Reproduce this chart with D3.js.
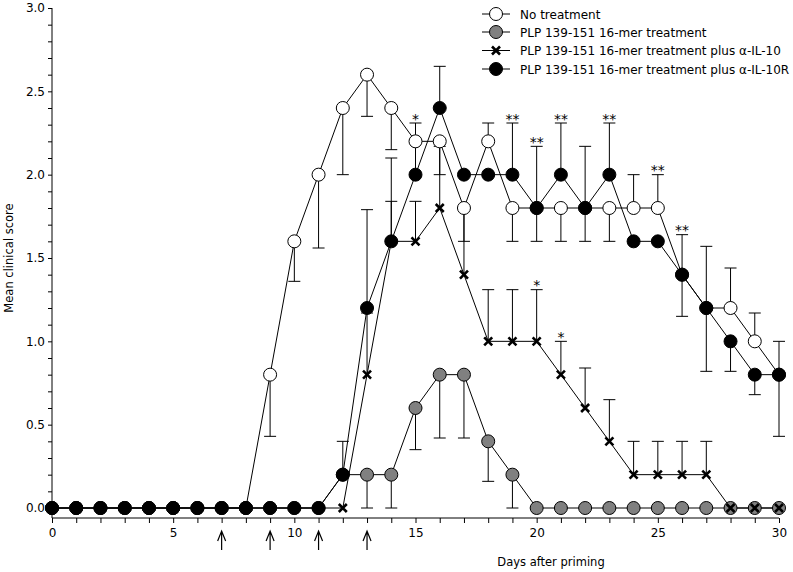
<!DOCTYPE html>
<html>
<head>
<meta charset="utf-8">
<script src="https://cdn.jsdelivr.net/npm/d3@7"></script>
<style>
  body { margin: 0; background: #fff; }
  text { font-family: "DejaVu Sans", Verdana, sans-serif; }
</style>
</head>
<body>
<svg id="chart" width="793" height="572"></svg>
<script>
// days after priming
const days = [0,1,2,3,4,5,6,7,8,9,10,11,12,13,14,15,16,17,18,19,20,21,22,23,24,25,26,27,28,29,30]

// mean clinical score per group
const noTreat   = [0,0,0,0,0,0,0,0,0,0.8,1.6,2.0,2.4,2.6,2.4,2.2,2.2,1.8,2.2,1.8,1.8,1.8,1.8,1.8,1.8,1.8,1.4,1.2,1.2,1.0,0.8]
const peptide   = [0,0,0,0,0,0,0,0,0,0,0,0,0.2,0.2,0.2,0.6,0.8,0.8,0.4,0.2,0,0,0,0,0,0,0,0,0,0,0]
const antiIL10  = [0,0,0,0,0,0,0,0,0,0,0,0,0,0.8,1.6,1.6,1.8,1.4,1.0,1.0,1.0,0.8,0.6,0.4,0.2,0.2,0.2,0.2,0,0,0]
const antiIL10R = [0,0,0,0,0,0,0,0,0,0,0,0,0.2,1.2,1.6,2.0,2.4,2.0,2.0,2.0,1.8,2.0,1.8,2.0,1.6,1.6,1.4,1.2,1.0,0.8,0.8]

// error bar ends (value where bar stops) keyed by day
const noTreatErr = {9:0.43,10:1.36,11:1.56,12:2.0,13:2.35,14:2.15,16:2.0,17:1.6,18:2.31,19:1.6,20:1.6,21:1.6,22:1.6,23:1.6,24:2.0,25:2.0,28:1.44,29:1.17}
const peptideErr = {12:0.4,13:0,14:0,15:0.35,16:0.42,17:0.42,18:0.16,19:0}
const antiIL10Err = {13:1.17,14:1.84,15:1.84,16:2.17,17:1.8,18:1.31,19:1.31,20:1.31,21:1.0,22:0.84,23:0.65,24:0.4,25:0.4,26:0.4,27:0.4}
const antiIL10RErrHi = {13:1.79,14:2.1,15:2.31,16:2.65,19:2.31,20:2.17,21:2.31,22:2.17,23:2.31,26:1.64,27:1.57,30:1.0}
const antiIL10RErrLo = {26:1.15,27:0.82,28:0.82,29:0.68,30:0.43}

// significance marks: day, level of bar top, label
const starDays   = [15,19,20,21,23,25,26,20,21]
const starLevels = [2.31,2.31,2.17,2.31,2.31,2.0,1.64,1.31,1.0]
const starLabels = ["*","**","**","**","**","**","**","*","*"]

// treatment days (arrows)
const arrowDays = [7,9,11,13]

const legendLabels = ["No treatment","PLP 139-151 16-mer treatment","PLP 139-151 16-mer treatment plus \u03b1-IL-10","PLP 139-151 16-mer treatment plus \u03b1-IL-10R"]

const svg = d3.select('#chart')
const x = d3.scaleLinear().domain([0,30]).range([52,779])
const y = d3.scaleLinear().domain([0,3]).range([508,8])
const axisY0 = 518

// axes
svg.append('g').attr('transform','translate(0,'+axisY0+')')
  .call(d3.axisBottom(x).tickValues(d3.range(0,31,1)).tickSize(5).tickFormat(d => d%5===0 ? d : ''))
  .call(g => g.select('.domain').attr('d','M52,0H779'))
  .call(g => g.selectAll('.tick text').attr('font-size',12).attr('dy','0.9em').style('font-family','DejaVu Sans'))

const ay = svg.append('g').attr('transform','translate(52,0)')
  .call(d3.axisLeft(y).tickValues(d3.range(0,3.01,0.1)).tickSize(4).tickFormat(d => Math.round(d*10)%5===0 ? d.toFixed(1) : ''))
ay.select('.domain').attr('d','M0,8V'+axisY0)
ay.selectAll('.tick text').attr('font-size',12).attr('x',-7).style('font-family','DejaVu Sans')

svg.append('text').attr('x',551).attr('y',566).attr('text-anchor','middle').attr('font-size',11.5).text('Days after priming')
svg.append('text').attr('transform','translate(13,258) rotate(-90)').attr('text-anchor','middle').attr('font-size',11.5).text('Mean clinical score')

// arrows
const arr = svg.append('g').attr('stroke','#000').attr('fill','none').attr('stroke-width',1.2)
arrowDays.forEach(d => {
  arr.append('path').attr('d',`M${x(d)},550V531M${x(d)-4},541L${x(d)},531L${x(d)+4},541`)
})

// error bars
function errBars(vals, ends){
  const g = svg.append('g').attr('stroke','#000').attr('stroke-width',1)
  Object.keys(ends).forEach(k => {
    const d = +k, e = ends[k]
    g.append('line').attr('x1',x(d)).attr('x2',x(d)).attr('y1',y(vals[d])).attr('y2',y(e))
    g.append('line').attr('x1',x(d)-6).attr('x2',x(d)+6).attr('y1',y(e)).attr('y2',y(e))
  })
}
errBars(noTreat, noTreatErr)
errBars(peptide, peptideErr)
errBars(antiIL10, antiIL10Err)
errBars(antiIL10R, antiIL10RErrHi)
errBars(antiIL10R, antiIL10RErrLo)

// lines
const line = d3.line().x((d,i) => x(days[i])).y(d => y(d))
;[noTreat, peptide, antiIL10, antiIL10R].forEach(s => {
  svg.append('path').attr('d',line(s)).attr('fill','none').attr('stroke','#000').attr('stroke-width',1)
})

// markers
function circles(vals, fill){
  svg.append('g').selectAll('circle').data(vals).enter().append('circle')
    .attr('cx',(d,i)=>x(days[i])).attr('cy',d=>y(d)).attr('r',6.5)
    .attr('fill',fill).attr('stroke','#000').attr('stroke-width',1)
}
function crosses(vals){
  svg.append('g').selectAll('path').data(vals).enter().append('path')
    .attr('d',(d,i)=>{const cx=x(days[i]),cy=y(d);return `M${cx-4},${cy-4}L${cx+4},${cy+4}M${cx-4},${cy+4}L${cx+4},${cy-4}`})
    .attr('stroke','#000').attr('stroke-width',2.6)
}
circles(noTreat,'#fff')
circles(peptide,'#808080')
crosses(antiIL10)
circles(antiIL10R,'#000')

// stars
svg.append('g').selectAll('text').data(starDays).enter().append('text')
  .attr('x',d=>x(d)).attr('y',(d,i)=>y(starLevels[i])+0.5)
  .attr('text-anchor','middle').attr('font-size',14)
  .text((d,i)=>starLabels[i])

// legend
const lg = svg.append('g')
const lgY = [14,32,50.5,69]
legendLabels.forEach((t,i) => {
  const yy = lgY[i]
  lg.append('line').attr('x1',482).attr('x2',510).attr('y1',yy).attr('y2',yy).attr('stroke','#000').attr('stroke-width',1)
  if (i===2) {
    lg.append('path').attr('d',`M492,${yy-4}L500,${yy+4}M492,${yy+4}L500,${yy-4}`).attr('stroke','#000').attr('stroke-width',2.6)
  } else {
    lg.append('circle').attr('cx',496).attr('cy',yy).attr('r',6.5)
      .attr('fill',['#fff','#808080',null,'#000'][i]).attr('stroke','#000')
  }
  lg.append('text').attr('x',520).attr('y',yy+4.5).attr('font-size',12).text(t)
})
</script>
</body>
</html>
